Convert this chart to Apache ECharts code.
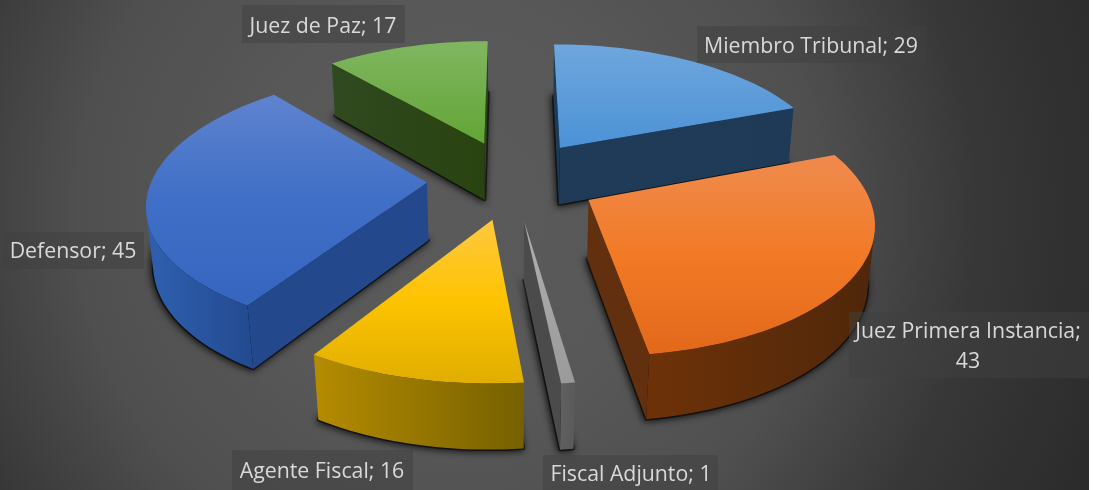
<!DOCTYPE html>
<html><head><meta charset="utf-8">
<style>html,body{margin:0;padding:0;background:#fff}#c{width:1089px;height:490px}</style>
<script src="https://cdn.jsdelivr.net/npm/echarts@6/dist/echarts.min.js"></script></head>
<body><div id="c"></div>
<script>
const categories = ['Miembro Tribunal','Juez Primera Instancia','Fiscal Adjunto','Agente Fiscal','Defensor','Juez de Paz'];
const values = [29,43,1,16,45,17];
const labelTexts = ['Miembro Tribunal; 29','Juez Primera Instancia;\n43','Fiscal Adjunto; 1','Agente Fiscal; 16','Defensor; 45','Juez de Paz; 17'];
const drawOrder = [5,0,4,1,3,2];
const topStops = [['#6fa6dd','#4b92d6'],['#ef8b4e','#f27a26','#e2691a'],['#b0b0b0','#9a9a9a'],['#ffc83f','#fdc300','#e0ae00'],['#5f83cf','#3f6fc6','#3565bf'],['#80b661','#62a535']];
const arcStops = [['#1f3d5c','#1f3a57'],['#6e3208','#4f270a'],['#606060','#5a5a5a'],['#b58c00','#766000'],['#2f60b0','#234a90'],['#30491f','#2a4412']];
const sideColors = [['#1f3b58','#1e3a56'],['#62300f','#62300f'],['#4b4b4b','#4b4b4b'],['#7a6200','#7a6200'],['#24488c','#24488c'],['#30491f','#294310']];
const labelPos = [[811,47],[968,347],[631,475],[322,472],[73,252],[323,27]];
const labelBox = [[697,26,229,37],[849,312,240,66],[543,455,175,35],[232,450,181,40],[3,232,141,37],[242,5,163,38]];

const CX=512.8, CY=179.5, RX=275, RY=127, PERSP=0.165, COSV=0.875, SINV=0.483, EXPLODE=0.312, DEPTH=0.245;
function project(x,y,z){ // x,y,z in radius units; z<=0 goes below the top plane
  const d = 1 + PERSP*(y*COSV - z*SINV);
  return [CX + RX*x/d, CY - (RY*y + z*RX*COSV)/d];
}
const total = values.reduce((a,b)=>a+b,0);
function sliceGeom(i){
  let a0=0; for(let k=0;k<i;k++) a0+=values[k]/total*Math.PI*2;
  const a1=a0+values[i]/total*Math.PI*2, mid=(a0+a1)/2;
  const ox=EXPLODE*Math.sin(mid), oy=EXPLODE*Math.cos(mid);
  const arc=[]; const n=Math.max(4,Math.ceil((a1-a0)/0.03));
  for(let k=0;k<=n;k++){const t=a0+(a1-a0)*k/n; arc.push([ox+Math.sin(t),oy+Math.cos(t)]);}
  return {apex:[ox,oy],arc};
}
const area=p=>{let s=0;for(let i=0;i<p.length;i++){const a=p[i],b=p[(i+1)%p.length];s+=a[0]*b[1]-b[0]*a[1];}return s/2;};
const G=(x0,y0,x1,y1,cols)=>new echarts.graphic.LinearGradient(x0,y0,x1,y1,cols.map((c,i)=>({offset:i/(cols.length-1),color:c})));
const poly=(pts,fill,extra)=>({type:'polygon',shape:{points:pts},style:Object.assign({fill,stroke:null},extra||{})});

function renderSlice(params,api){
  const i=api.value(0), g=sliceGeom(i), kids=[];
  const up=p=>project(p[0],p[1],0), dn=p=>project(p[0],p[1],-DEPTH);
  const outline=[g.apex].concat(g.arc);
  const quad=(a,b)=>[up(a),up(b),dn(b),dn(a)];
  const visible=(a,b)=>area(quad(a,b))<0;
  const sides=[[g.apex,g.arc[0],0],[g.arc[g.arc.length-1],g.apex,1]];
  sides.forEach(s=>{ if(visible(s[0],s[1])) kids.push(poly(quad(s[0],s[1]),G(0,0,1,0,sideColors[i]))); });
  let run=[];
  const flush=()=>{ if(run.length>1){ kids.push(poly(run.map(up).concat(run.slice().reverse().map(dn)),G(0,0,1,0,arcStops[i]))); } run=[]; };
  for(let k=0;k<g.arc.length-1;k++){
    if(visible(g.arc[k],g.arc[k+1])){ if(!run.length) run.push(g.arc[k]); run.push(g.arc[k+1]); } else flush();
  }
  flush();
  kids.push(poly(outline.map(up),G(0,0,0,1,topStops[i])));
  return {type:'group',children:kids};
}
function renderShadow(params,api){
  const g=sliceGeom(api.value(0));
  const pts=[g.apex].concat(g.arc).map(p=>project(p[0],p[1],-DEPTH));
  return poly(pts,'rgba(0,0,0,0.8)',{stroke:'rgba(0,0,0,0.55)',lineWidth:3,lineJoin:'round',shadowBlur:7,shadowOffsetX:-1,shadowOffsetY:1,shadowColor:'rgba(0,0,0,1)'});
}
function renderLabel(params,api){
  const i=api.value(0), b=labelBox[i];
  return {type:'group',children:[
    {type:'rect',shape:{x:b[0],y:b[1],width:b[2],height:b[3]},style:{fill:'rgba(64,64,64,0.5)',stroke:null}},
    {type:'text',style:{x:labelPos[i][0],y:labelPos[i][1],text:labelTexts[i],align:'center',verticalAlign:'middle',fill:'#d9d9d9',font:'21.3px "Open Sans","Noto Sans",sans-serif',lineHeight:30}}
  ]};
}
const chart=echarts.init(document.getElementById('c'),null,{renderer:'canvas'});
const orderData=drawOrder.map(i=>[i]);
const bg=new echarts.graphic.RadialGradient(450,210,680,[{offset:0,color:'#5a5a5a'},{offset:0.3,color:'#585858'},{offset:0.55,color:'#4f4f4f'},{offset:0.78,color:'#373737'},{offset:1,color:'#2c2c2c'}],true);
chart.setOption({
  animation:false,
  backgroundColor:bg,
  series:[
    {type:'custom',coordinateSystem:'none',name:'shadow',renderItem:renderShadow,data:orderData,silent:true,z:1},
    {type:'custom',coordinateSystem:'none',name:'slices',renderItem:renderSlice,data:orderData,z:2},
    {type:'custom',coordinateSystem:'none',name:'labels',renderItem:renderLabel,data:categories.map((c,i)=>[i,c]),z:3}
  ]
});
</script></body></html>
